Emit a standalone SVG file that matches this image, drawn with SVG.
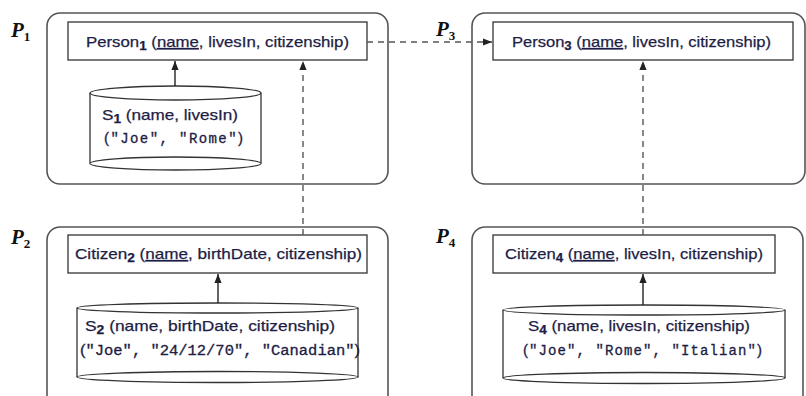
<svg xmlns="http://www.w3.org/2000/svg" width="806" height="396" viewBox="0 0 806 396">
  <defs>
    <marker id="arr" viewBox="0 0 10 10" refX="10" refY="5" markerWidth="9" markerHeight="9" markerUnits="userSpaceOnUse" orient="auto">
      <path d="M0,1 L10,5 L0,9 Z" fill="#222"/>
    </marker>
    <style>
      .panel { fill: none; stroke: #555; stroke-width: 1.6; }
      .box { fill: #fff; stroke: #333; stroke-width: 1.3; }
      .cyl { fill: #fff; stroke: #333; stroke-width: 1.3; }
      .rel { font-family: "Liberation Sans", "DejaVu Sans", sans-serif; font-size: 15px; fill: #1d1d45; stroke: #1d1d45; stroke-width: 0.25; }
      .val { font-family: "Liberation Mono", "DejaVu Sans Mono", monospace; font-size: 14px; fill: #1d1d45; stroke: #1d1d45; stroke-width: 0.3; }
      .par { font-family: "Liberation Sans", sans-serif; font-size: 15px; }
      .sub { font-size: 12px; font-weight: bold; }
      .plab { font-family: "Liberation Serif", "DejaVu Serif", serif; font-style: italic; font-weight: bold; font-size: 21px; fill: #111; }
      .plab .n { font-style: normal; font-size: 13px; }
      .solid { fill: none; stroke: #222; stroke-width: 1.4; marker-end: url(#arr); }
      .dash { fill: none; stroke: #555; stroke-width: 1.4; stroke-dasharray: 6 5; marker-end: url(#arr); }
    </style>
  </defs>

  <!-- peer P1 -->
  <g id="P1">
    <rect class="panel" x="47" y="13" width="341" height="171" rx="13"/>
    <text class="plab" x="11" y="37">P<tspan class="n" dy="4">1</tspan></text>
    <rect class="box" x="68" y="22" width="299" height="38"/>
    <text class="rel" x="86" y="47" textLength="263" lengthAdjust="spacingAndGlyphs">Person<tspan class="sub" dy="3">1</tspan><tspan dy="-3"> (</tspan><tspan text-decoration="underline">name</tspan>, livesIn, citizenship)</text>
    <g id="S1">
      <path class="cyl" d="M90,93 L90,163.5 A85.5,6.5 0 0 0 261,163.5 L261,93"/>
      <ellipse class="cyl" cx="175.5" cy="93" rx="85.5" ry="7"/>
      <path class="cyl" d="M90,163.5 A85.5,6.5 0 0 1 261,163.5" fill="none"/>
      <text class="rel" x="102" y="120" textLength="136" lengthAdjust="spacingAndGlyphs">S<tspan class="sub" dy="3">1</tspan><tspan dy="-3"> (name, livesIn)</tspan></text>
      <text class="val" x="104" y="143" textLength="139" lengthAdjust="spacing"><tspan class="par">(</tspan>"Joe", "Rome"<tspan class="par">)</tspan></text>
    </g>
  </g>

  <!-- peer P3 -->
  <g id="P3">
    <rect class="panel" x="472" y="13" width="333" height="171" rx="13"/>
    <text class="plab" x="436" y="36">P<tspan class="n" dy="4">3</tspan></text>
    <rect class="box" x="493" y="22" width="300" height="38"/>
    <text class="rel" x="512" y="47" textLength="259" lengthAdjust="spacingAndGlyphs">Person<tspan class="sub" dy="3">3</tspan><tspan dy="-3"> (</tspan><tspan text-decoration="underline">name</tspan>, livesIn, citizenship)</text>
  </g>

  <!-- peer P2 -->
  <g id="P2">
    <rect class="panel" x="47" y="227" width="341" height="185" rx="13"/>
    <text class="plab" x="11" y="244">P<tspan class="n" dy="4">2</tspan></text>
    <rect class="box" x="68" y="235" width="299" height="38"/>
    <text class="rel" x="75" y="259" textLength="287" lengthAdjust="spacingAndGlyphs">Citizen<tspan class="sub" dy="3">2</tspan><tspan dy="-3"> (</tspan><tspan text-decoration="underline">name</tspan>, birthDate, citizenship)</text>
    <g id="S2">
      <path class="cyl" d="M77,308 L77,377 A140.5,5.5 0 0 0 358,377 L358,308"/>
      <ellipse class="cyl" cx="217.5" cy="308" rx="140.5" ry="5"/>
      <path class="cyl" d="M77,377 A140.5,5.5 0 0 1 358,377" fill="none"/>
      <text class="rel" x="85" y="331" textLength="250" lengthAdjust="spacingAndGlyphs">S<tspan class="sub" dy="3">2</tspan><tspan dy="-3"> (name, birthDate, citizenship)</tspan></text>
      <text class="val" x="80" y="355" textLength="280" lengthAdjust="spacingAndGlyphs"><tspan class="par">(</tspan>"Joe", "24/12/70", "Canadian"<tspan class="par">)</tspan></text>
    </g>
  </g>

  <!-- peer P4 -->
  <g id="P4">
    <rect class="panel" x="472" y="227" width="331" height="185" rx="13"/>
    <text class="plab" x="436" y="243">P<tspan class="n" dy="4">4</tspan></text>
    <rect class="box" x="493" y="235" width="282" height="38"/>
    <text class="rel" x="505" y="259" textLength="258" lengthAdjust="spacingAndGlyphs">Citizen<tspan class="sub" dy="3">4</tspan><tspan dy="-3"> (</tspan><tspan text-decoration="underline">name</tspan>, livesIn, citizenship)</text>
    <g id="S4">
      <path class="cyl" d="M503,310 L503,378 A141,5.5 0 0 0 785,378 L785,310"/>
      <ellipse class="cyl" cx="644" cy="310" rx="141" ry="5"/>
      <path class="cyl" d="M503,378 A141,5.5 0 0 1 785,378" fill="none"/>
      <text class="rel" x="528" y="331" textLength="222" lengthAdjust="spacingAndGlyphs">S<tspan class="sub" dy="3">4</tspan><tspan dy="-3"> (name, livesIn, citizenship)</tspan></text>
      <text class="val" x="523" y="355" textLength="239" lengthAdjust="spacing"><tspan class="par">(</tspan>"Joe", "Rome", "Italian"<tspan class="par">)</tspan></text>
    </g>
  </g>

  <!-- mappings between relations -->
  <g id="connectors">
    <line class="solid" x1="175" y1="86" x2="175" y2="61"/>
    <line class="solid" x1="218" y1="303" x2="218" y2="274"/>
    <line class="solid" x1="643" y1="305" x2="643" y2="274"/>
    <line class="dash" x1="303" y1="235" x2="303" y2="61"/>
    <line class="dash" x1="643" y1="235" x2="643" y2="61"/>
    <line class="dash" x1="367" y1="42" x2="492" y2="42"/>
  </g>
</svg>
